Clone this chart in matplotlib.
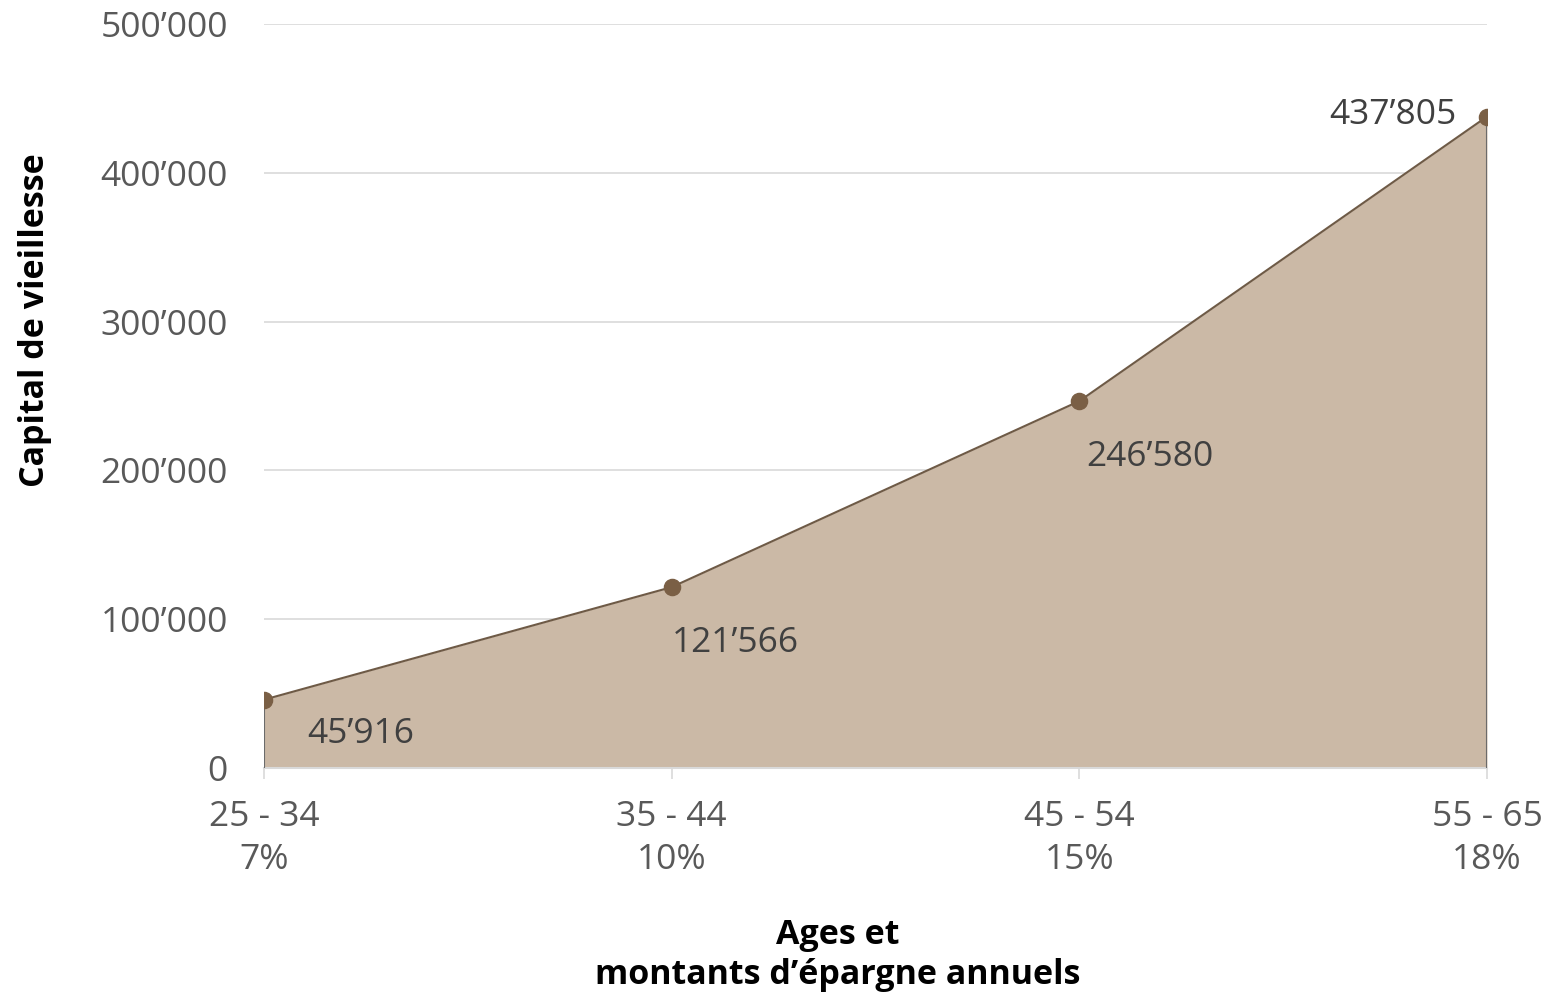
import matplotlib.pyplot as plt

plt.rcParams['font.family'] = ['Open Sans', 'DejaVu Sans']

ages = ["25 - 34", "35 - 44", "45 - 54", "55 - 65"]
rates = ["7%", "10%", "15%", "18%"]
capital = [45916, 121566, 246580, 437805]
labels = ["45\u2019916", "121\u2019566", "246\u2019580", "437\u2019805"]
yticks = [0, 100000, 200000, 300000, 400000, 500000]
ytick_labels = ["0", "100\u2019000", "200\u2019000", "300\u2019000", "400\u2019000", "500\u2019000"]

x = list(range(len(ages)))

fig = plt.figure(figsize=(15.47, 9.94), dpi=100)
ax = fig.add_axes([264/1547, 1-768/994, (1487-264)/1547, (768-24)/994])

ax.fill_between(x, 0, capital, color="#cbb9a6", lw=0, zorder=2)
ax.plot(x, capital, color="#6e5a46", lw=1.5, zorder=3)
ax.vlines([x[0], x[-1]], 0, [capital[0], capital[-1]], color="#6b6b6b", lw=1.5, zorder=3)
ax.scatter(x, capital, s=135, color="#7a5f45", zorder=4)

offsets = [(31, -25), (0, -40), (5, -40), (-22, 1)]
aligns = ["left", "left", "left", "right"]
for i in range(len(x)):
    ax.annotate(labels[i], (x[i], capital[i]), xytext=offsets[i], textcoords="offset points",
                ha=aligns[i], va="center", fontsize=25.5, color="#404040", zorder=5)

ax.set_xlim(0, 3)
ax.set_ylim(0, 500000)
ax.set_yticks(yticks)
ax.set_yticklabels(ytick_labels)
ax.set_xticks(x)
ax.set_xticklabels([a + "\n" + r for a, r in zip(ages, rates)], linespacing=1.35)
ax.grid(axis="y", color="#d9d9d9", lw=1.2, zorder=1)
ax.tick_params(axis="y", length=0, pad=26, labelsize=25.5, labelcolor="#595959")
ax.tick_params(axis="x", length=8, width=1.2, color="#d9d9d9", pad=15, labelsize=25.5, labelcolor="#595959")
for s in ["top", "right", "left"]:
    ax.spines[s].set_visible(False)
ax.spines["bottom"].set_color("#d9d9d9")
ax.spines["bottom"].set_linewidth(1.5)

fig.text(35/1547, 1-320/994, "Capital de vieillesse", rotation=90, ha="center", va="center",
         fontsize=24.5, fontweight="bold", color="black")
fig.text(838/1547, 1-955/994, "Ages et\nmontants d\u2019\u00e9pargne annuels", ha="center", va="center",
         fontsize=24.5, fontweight="bold", color="black", linespacing=1.25)

plt.savefig("out.png", dpi=100)
